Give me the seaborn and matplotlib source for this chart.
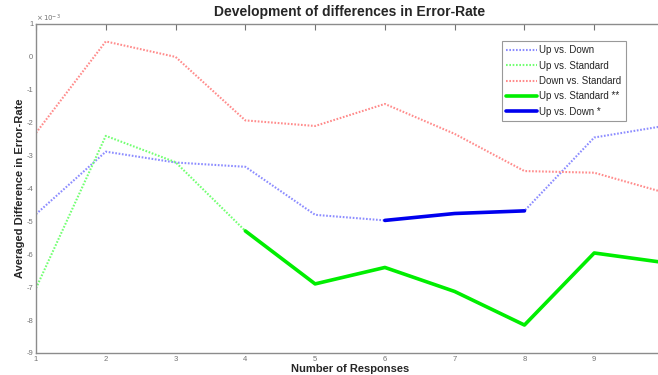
import matplotlib
matplotlib.use("Agg")
import matplotlib.pyplot as plt
import seaborn as sns
import pandas as pd

# Data (values in units of 1e-3)
responses = [1, 2, 3, 4, 5, 6, 7, 8, 9, 10]
up_vs_down = [-4.78, -2.88, -3.21, -3.34, -4.80, -4.97, -4.76, -4.68, -2.45, -2.10]
up_vs_standard = [-7.03, -2.40, -3.20, -5.29, -6.90, -6.40, -7.13, -8.15, -5.96, -6.25]
down_vs_standard = [-2.31, 0.47, 0.0, -1.93, -2.10, -1.43, -2.34, -3.47, -3.52, -4.12]
# significant ranges (index slices)
sig_up_standard = (3, 10)   # x = 4..10
sig_up_down = (5, 8)        # x = 6..8

yticks = [-9, -8, -7, -6, -5, -4, -3, -2, -1, 0, 1]
xticks = [1, 2, 3, 4, 5, 6, 7, 8, 9]

sns.set_style("white")
plt.rcParams['font.family'] = ['Liberation Sans', 'DejaVu Sans']

fig = plt.figure(figsize=(6.58, 3.75), dpi=100)
ax = fig.add_axes([36/658, 22/375, (664-36)/658, (353-24)/375])

df = pd.DataFrame({"x": responses, "ud": up_vs_down, "us": up_vs_standard, "ds": down_vs_standard})

dot = dict(linestyle=(0, (0.8, 0.8)), lw=1.5)
sns.lineplot(data=df, x="x", y="ud", ax=ax, color=(0.55, 0.55, 1.0), label="Up vs. Down", **dot)
sns.lineplot(data=df, x="x", y="us", ax=ax, color=(0.45, 1.0, 0.45), label="Up vs. Standard", **dot)
sns.lineplot(data=df, x="x", y="ds", ax=ax, color=(1.0, 0.55, 0.55), label="Down vs. Standard", **dot)
d1 = df.iloc[sig_up_standard[0]:sig_up_standard[1]]
sns.lineplot(data=d1, x="x", y="us", ax=ax, color="#00ee00", lw=2.6, label="Up vs. Standard **")
d2 = df.iloc[sig_up_down[0]:sig_up_down[1]]
sns.lineplot(data=d2, x="x", y="ud", ax=ax, color="#0000ee", lw=2.6, label="Up vs. Down *")

ax.set_xlim(1, 10)
ax.set_ylim(-9, 1)
ax.set_xticks(xticks)
ax.set_yticks(yticks)
ax.set_xticklabels([str(v) for v in xticks])
ax.set_yticklabels([str(v) for v in yticks])
ax.tick_params(direction='in', length=4, width=0.8, colors=(0.45, 0.45, 0.45),
               labelsize=5.5, top=True, right=True, pad=2)
for s in ax.spines.values():
    s.set_color((0.55, 0.55, 0.55))
    s.set_linewidth(1.0)

ax.set_xlabel("Number of Responses", fontsize=8, fontweight='bold', labelpad=1)
ax.set_ylabel("Averaged Difference in Error-Rate", fontsize=8, fontweight='bold', labelpad=1)
ax.set_title("Development of differences in Error-Rate", fontsize=10, fontweight='bold', pad=6)
fig.text(36/658, 1 - 18/375, r"$\times\,10^{-3}$", fontsize=5, color=(0.45, 0.45, 0.45), va='center')

leg = ax.legend(loc='upper left', bbox_to_anchor=(502/658, 1 - 41/375), bbox_transform=fig.transFigure,
                fontsize=7, frameon=True, fancybox=False, handlelength=3.2, handletextpad=0.2,
                borderpad=0.45, labelspacing=0.55, borderaxespad=0)
leg.get_frame().set_edgecolor((0.5, 0.5, 0.5))
leg.get_frame().set_linewidth(0.8)

fig.savefig("out.png", dpi=100)
